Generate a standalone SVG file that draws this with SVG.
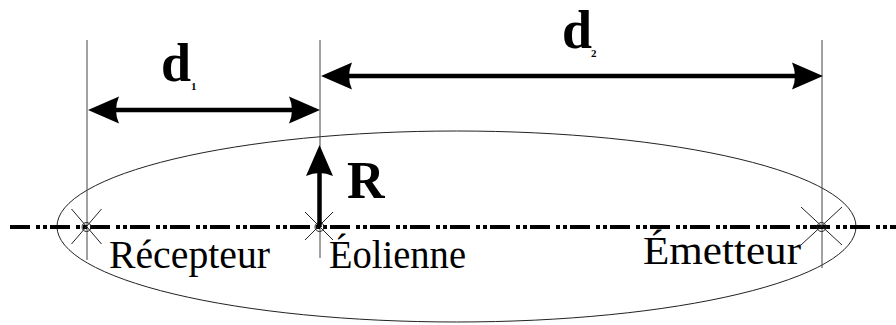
<svg xmlns="http://www.w3.org/2000/svg" xmlns:xlink="http://www.w3.org/1999/xlink" width="896" height="325" viewBox="0 0 896 325">
<style>
.thin{stroke:#222;stroke-width:1;fill:none}
.guide{stroke:#444;stroke-width:1}
.axis{stroke:#000;stroke-width:4;stroke-dasharray:20 6 4 3 4 3;fill:none}
.shaft{stroke:#000;stroke-width:4.5;fill:none}
.lbl{font-family:"Liberation Serif","Times New Roman",serif;fill:#000}
.big{font-family:"Liberation Serif","Times New Roman",serif;font-weight:bold;fill:#000}
</style>
<defs>
<path id="ah" d="M0,0 L-31,-13.5 Q-25,0 -31,13.5 Z" fill="#000"/>
</defs>
<rect width="896" height="325" fill="#fff"/>
<g id="ellipse"><ellipse class="thin" cx="456.5" cy="226.5" rx="399.5" ry="95.5"/></g>
<g id="guides">
<line class="guide" x1="87" y1="40" x2="87" y2="260"/>
<line class="guide" x1="320" y1="40" x2="320" y2="258"/>
<line class="guide" x1="822" y1="40" x2="822" y2="268"/>
</g>
<g id="axis"><line class="axis" x1="10" y1="227" x2="896" y2="227"/></g>
<g id="recepteur">
<circle class="thin" cx="86.5" cy="227" r="4.5"/>
<line class="thin" x1="71.5" y1="209" x2="101.5" y2="244"/>
<line class="thin" x1="101.5" y1="209" x2="71.5" y2="244"/>
<text class="lbl" x="109" y="267.5" font-size="39.5" textLength="161" lengthAdjust="spacingAndGlyphs">Récepteur</text>
</g>
<g id="eolienne">
<circle class="thin" cx="319.5" cy="227" r="4.5"/>
<line class="thin" x1="305" y1="212" x2="333" y2="240"/>
<line class="thin" x1="333" y1="212" x2="305" y2="240"/>
<text class="lbl" x="329" y="267.5" font-size="39.5" textLength="137" lengthAdjust="spacingAndGlyphs">Éolienne</text>
</g>
<g id="emetteur">
<circle class="thin" cx="821.5" cy="227" r="4.5"/>
<line class="thin" x1="801" y1="207" x2="842" y2="245"/>
<line class="thin" x1="842" y1="207" x2="801" y2="245"/>
<text class="lbl" x="643" y="263.5" font-size="40" textLength="158" lengthAdjust="spacingAndGlyphs">Émetteur</text>
</g>
<g id="connectors">
<line class="shaft" x1="110" y1="110" x2="298" y2="110"/>
<use xlink:href="#ah" href="#ah" transform="translate(88,110) rotate(180)"/>
<use xlink:href="#ah" href="#ah" transform="translate(320,110)"/>
<line class="shaft" x1="342" y1="76" x2="800" y2="76"/>
<use xlink:href="#ah" href="#ah" transform="translate(321,76) rotate(180)"/>
<use xlink:href="#ah" href="#ah" transform="translate(823,76)"/>
<line class="shaft" x1="319.5" y1="227" x2="319.5" y2="168"/>
<use xlink:href="#ah" href="#ah" transform="translate(319.5,145) rotate(-90)"/>
</g>
<g id="labels">
<text class="big" x="161" y="81" font-size="54">d</text>
<text class="big" x="191" y="90" font-size="11">1</text>
<text class="big" x="562" y="48" font-size="54">d</text>
<text class="big" x="591" y="57" font-size="11">2</text>
<text class="big" x="347" y="198" font-size="52">R</text>
</g>
</svg>
